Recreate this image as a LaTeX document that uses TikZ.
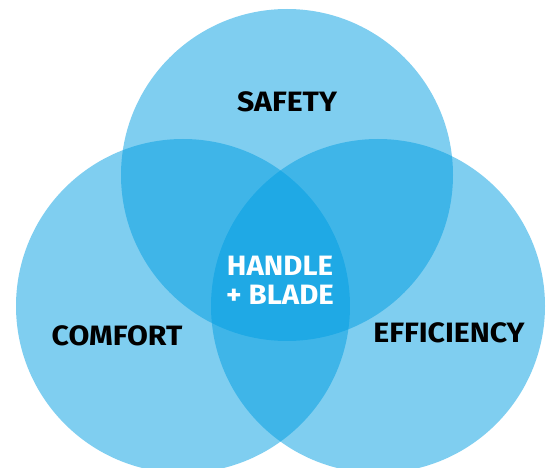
\documentclass[tikz,border=0pt]{standalone}
\usepackage{fontspec}
\setmainfont{Fira Sans}
\definecolor{vennblue}{RGB}{0,157,225}
\begin{document}
\begin{tikzpicture}[x=1pt,y=-1pt,
  venn/.style={fill=vennblue,fill opacity=0.5,draw=none},
  lbl/.style={font=\bfseries\fontsize{28}{29}\selectfont,text=black,inner sep=0pt,anchor=center,xscale=1.08},
  clbl/.style={font=\bfseries\fontsize{28}{29}\selectfont,text=white,inner sep=0pt,align=center,anchor=center,xscale=1.05}]
\useasboundingbox (0,0) rectangle (552,468);
\begin{scope}
\clip (0,0) rectangle (552,468);
\fill[venn] (287,175) circle[radius=166];
\fill[venn] (183,306) circle[radius=167];
\fill[venn] (378,306) circle[radius=167];
\end{scope}
\node[lbl] (safety) at (287,102) {SAFETY};
\node[lbl] (comfort) at (117,336) {COMFORT};
\node[lbl] (eff) at (449,333) {EFFICIENCY};
\node[clbl] (hb) at (280,280) {HANDLE\\+ BLADE};
\end{tikzpicture}
\end{document}
